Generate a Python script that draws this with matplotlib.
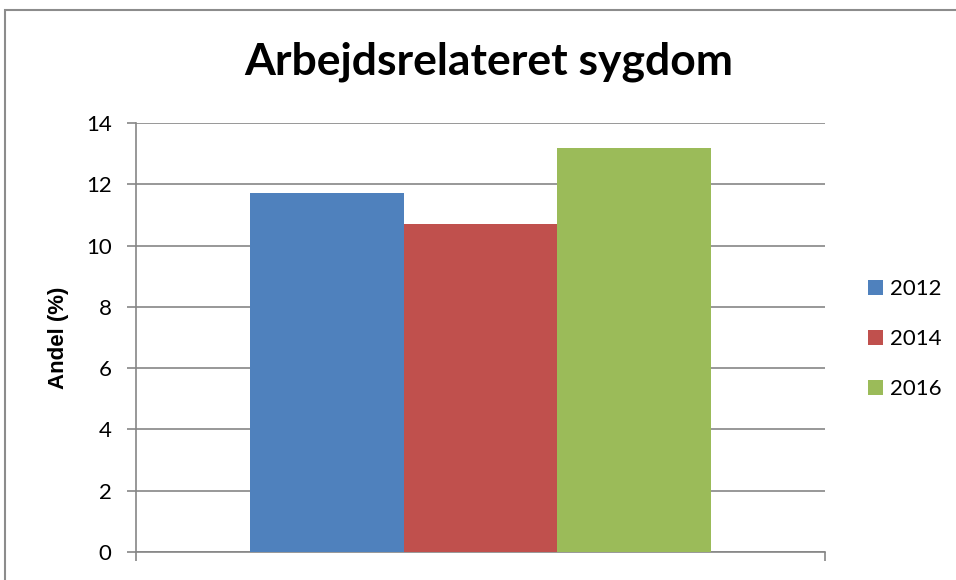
import matplotlib.pyplot as plt
from matplotlib.patches import Rectangle

years = ['2012', '2014', '2016']
andel = [11.7, 10.7, 13.2]
colors = ['#4f81bd', '#c0504d', '#9bbb59']

plt.rcParams['font.family'] = ['Lato', 'DejaVu Sans']
W, H = 956, 580
fig = plt.figure(figsize=(W / 100, H / 100), dpi=100)
ax = fig.add_axes([136 / W, 1 - 552 / H, 689 / W, (552 - 123) / H])

width = 0.2228
for i, (yr, v, c) in enumerate(zip(years, andel, colors)):
    ax.bar((i - 1) * width, v, width=width, color=c, label=yr, zorder=3)

grid_c = '#868686'
ax.set_xlim(-0.5, 0.5)
ax.set_ylim(0, 14)
ax.set_yticks(range(0, 15, 2))
ax.set_xticks([-0.5, 0.5])
ax.set_xticklabels([])
ax.yaxis.grid(True, color=grid_c, lw=1.2, zorder=0)
for s in ['top', 'right']:
    ax.spines[s].set_visible(False)
for s in ['left', 'bottom']:
    ax.spines[s].set_color(grid_c)
    ax.spines[s].set_linewidth(1.2)
ax.tick_params(axis='both', direction='out', length=6.5, width=1.2, color=grid_c)
ax.tick_params(axis='y', labelsize=16, pad=11)
ax.set_ylabel('Andel (%)', fontsize=16, fontweight='bold', labelpad=12,
              family='Liberation Sans')

fig.text(489 / W, 1 - 62 / H, 'Arbejdsrelateret sygdom', ha='center', va='center',
         fontsize=32, fontweight='bold')

fig.legend(loc='center left', bbox_to_anchor=(868 / W, 1 - 339 / H), frameon=False,
           fontsize=16, handlelength=0.68, handleheight=0.68, labelspacing=1.35,
           handletextpad=0.32, borderaxespad=0, borderpad=0)

# outer chart frame, open to the right and bottom
fig.patches.append(Rectangle((5, -100), 1100, 670, transform=None, fill=False,
                             edgecolor='#8c8c8c', lw=1.5, clip_on=False))

fig.savefig('out.png', dpi=100)
